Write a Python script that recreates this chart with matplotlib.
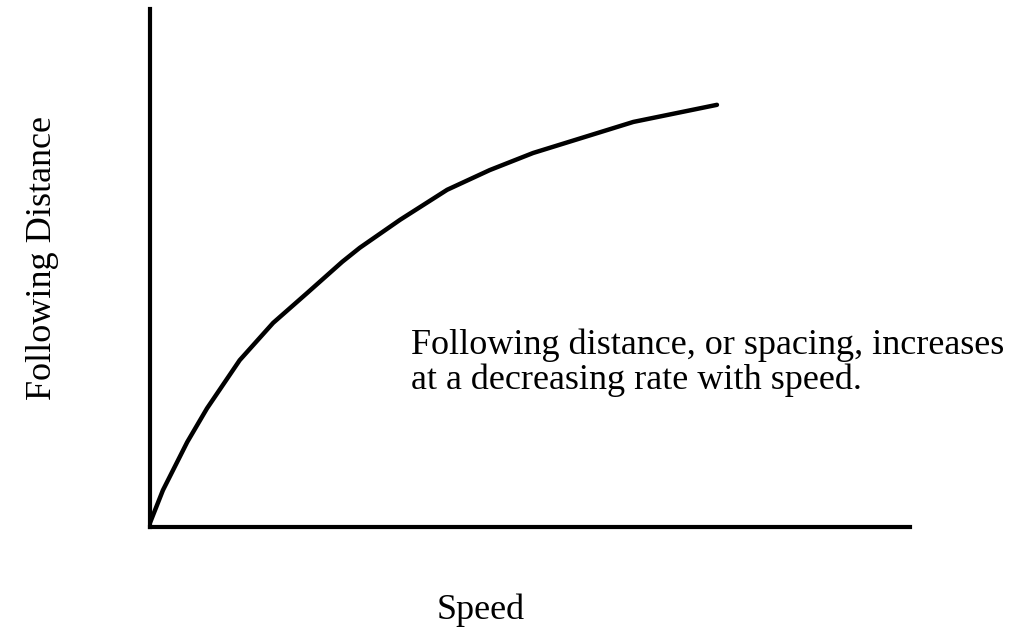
import matplotlib
matplotlib.use('Agg')
import matplotlib.pyplot as plt

# curve data (speed vs following distance, arbitrary units)
speed = [0, 1.7, 4.9, 7.5, 11.8, 16.2, 20.7, 25.3, 27.6, 32.9, 39.1, 44.7, 50.4, 63.6, 74.6]
distance = [0.8, 7.1, 16.4, 22.9, 32.2, 39.4, 45.2, 51.2, 53.9, 59.3, 65.1, 68.9, 72.2, 78.2, 81.5]

note_lines = ['Following distance, or spacing, increases',
              'at a decreasing rate with speed.']

plt.rcParams['font.family'] = ['Liberation Serif', 'DejaVu Serif']

W, H = 1025, 632
fig = plt.figure(figsize=(W / 100, H / 100), dpi=100)
ax = fig.add_axes([150 / W, (H - 527) / H, 760 / W, 518 / H])

ax.plot(speed, distance, color='black', linewidth=3.2,
        solid_capstyle='round', solid_joinstyle='round')

ax.set_xlim(0, 100)
ax.set_ylim(0, 100)

# only left and bottom axis lines, no ticks
for side in ['top', 'right']:
    ax.spines[side].set_visible(False)
for side in ['left', 'bottom']:
    ax.spines[side].set_linewidth(3)
ax.set_xticks([])
ax.set_yticks([])

# axis titles
fig.text(481 / W, 1 - 619 / H, 'Speed', fontsize=26, ha='center', va='baseline')
fig.text(43 / W, 1 - 258 / H, 'Following Distance', fontsize=26,
         rotation=90, ha='center', va='center')

# annotation, one text per line
for line, base in zip(note_lines, [354, 389]):
    fig.text(411 / W, 1 - base / H, line, fontsize=26, ha='left', va='baseline')

fig.savefig('out.png', dpi=100)
